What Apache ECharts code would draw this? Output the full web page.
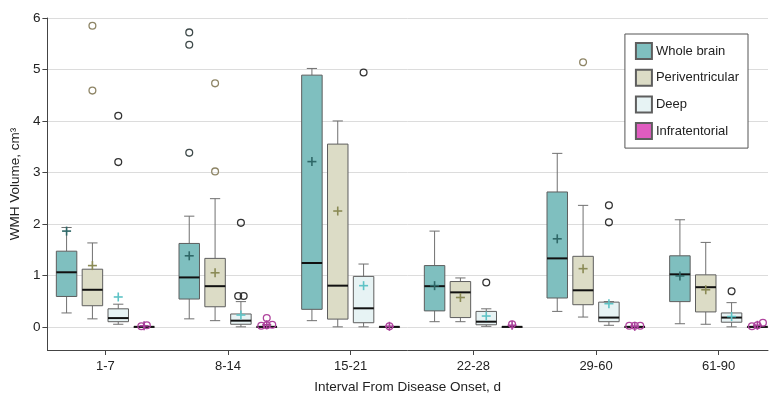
<!DOCTYPE html>
<html>
<head>
<meta charset="utf-8">
<script src="https://cdn.jsdelivr.net/npm/echarts@6/dist/echarts.min.js"></script>
<style>html,body{margin:0;padding:0;background:#fff}#c{width:780px;height:405px}</style>
</head>
<body>
<div id="c"></div>
<script>
// ---- data ----
const categories = ['1-7', '8-14', '15-21', '22-28', '29-60', '61-90'];
const groupNames = ['Whole brain', 'Periventricular', 'Deep', 'Infratentorial'];

// [low whisker, Q1, median, Q3, high whisker]
const wholeBrainStats = [
  [0.27, 0.59, 1.06, 1.47, 1.93],
  [0.155, 0.54, 0.96, 1.62, 2.15],
  [0.12, 0.34, 1.24, 4.89, 5.02],
  [0.10, 0.31, 0.79, 1.19, 1.86],
  [0.30, 0.56, 1.33, 2.62, 3.37],
  [0.06, 0.49, 1.02, 1.38, 2.08]
];
const periStats = [
  [0.155, 0.41, 0.72, 1.12, 1.63],
  [0.12, 0.39, 0.79, 1.33, 2.49],
  [0.0, 0.15, 0.80, 3.55, 4.0],
  [0.10, 0.18, 0.67, 0.88, 0.95],
  [0.19, 0.43, 0.71, 1.37, 2.36],
  [0.05, 0.29, 0.77, 1.01, 1.64]
];
const deepStats = [
  [0.05, 0.10, 0.17, 0.35, 0.44],
  [0.0, 0.05, 0.12, 0.25, 0.49],
  [0.0, 0.08, 0.36, 0.98, 1.22],
  [0.01, 0.04, 0.10, 0.30, 0.35],
  [0.03, 0.10, 0.18, 0.48, 0.49],
  [0.0, 0.09, 0.18, 0.27, 0.47]
];
const infraStats = [
  [0, 0, 0, 0, 0],
  [0, 0, 0, 0, 0],
  [0, 0, 0, 0, 0],
  [0, 0, 0, 0, 0],
  [0, 0, 0, 0, 0],
  [0, 0, 0, 0, 0]
];

const wholeBrainMeans = [1.86, 1.38, 3.21, 0.80, 1.71, 0.99];
const periMeans = [1.19, 1.05, 2.25, 0.57, 1.13, 0.72];
const deepMeans = [0.58, 0.23, 0.80, 0.21, 0.45, 0.20];
const infraMeans = [0.02, 0.04, 0.01, 0.03, 0.01, 0.03];

// outliers per category
const wholeBrainOutliers = [[], [5.72, 5.48, 3.38], [], [], [], []];
const periOutliers = [[5.85, 4.59], [4.73, 3.02], [], [], [5.14], []];
const deepOutliers = [[4.10, 3.20], [2.02, 0.60, 0.60], [4.94], [0.86], [2.36, 2.03], [0.69]];
const infraOutliers = [[0.01, 0.03], [0.17, 0.02, 0.03, 0.04], [0.01], [0.05], [0.02, 0.02, 0.02], [0.01, 0.03, 0.08]];

const yTicksMin = -0.45, yTicksMax = 6;

// ---- styles ----
const FONT = "'Liberation Sans', Arial, sans-serif";
const fills = ['#7fbfbf', '#dcdcc6', '#e7f3f4', '#e05cc0'];
const meanColors = ['#2f6868', '#8a8a55', '#5ec3c6', '#a8409a'];
const outlierColors = ['#3f4a4a', '#8e8566', '#333333', '#b0449e'];
const boxBorder = '#5e5e5e';
const whiskerColor = '#707070';

const statsList = [wholeBrainStats, periStats, deepStats, infraStats];
const meansList = [wholeBrainMeans, periMeans, deepMeans, infraMeans];
const outliersList = [wholeBrainOutliers, periOutliers, deepOutliers, infraOutliers];

// same slot layout as ECharts boxplot with 4 series per band
function slot(api, gi) {
  const band = api.size([1, 0])[0];
  const avail = band * 0.8 - 2;
  const gap = avail / 4 * 0.3;
  const bw = (avail - gap * 3) / 4;
  return { off: bw / 2 - avail / 2 + gi * (bw + gap), boxW: band * 0.167 };
}

function boxRender(gi) {
  return function (params, api) {
    const c = api.value(0);
    const s = slot(api, gi);
    const x = api.coord([c, 0])[0] + s.off;
    const Y = v => api.coord([c, v])[1];
    const low = Y(api.value(1)), q1 = Y(api.value(2)), med = Y(api.value(3)), q3 = Y(api.value(4)), high = Y(api.value(5));
    const hw = s.boxW / 2, cap = s.boxW / 4;
    const ls = { stroke: whiskerColor, lineWidth: 1 };
    const ch = [];
    if (low - q1 > 0.5) {
      ch.push({ type: 'line', shape: { x1: x, y1: q1, x2: x, y2: low }, style: ls });
      ch.push({ type: 'line', shape: { x1: x - cap, y1: low, x2: x + cap, y2: low }, style: ls });
    }
    if (q3 - high > 0.5) {
      ch.push({ type: 'line', shape: { x1: x, y1: q3, x2: x, y2: high }, style: ls });
      ch.push({ type: 'line', shape: { x1: x - cap, y1: high, x2: x + cap, y2: high }, style: ls });
    }
    ch.push({ type: 'rect', shape: { x: x - hw, y: q3, width: s.boxW, height: Math.max(q1 - q3, 0.5) },
      style: { fill: fills[gi], stroke: boxBorder, lineWidth: 1 } });
    ch.push({ type: 'line', shape: { x1: x - hw, y1: med, x2: x + hw, y2: med }, style: { stroke: '#111', lineWidth: 2 } });
    return { type: 'group', children: ch };
  };
}

function meanRender(gi) {
  return function (params, api) {
    const c = api.value(0);
    const s = slot(api, gi);
    const p = api.coord([c, api.value(1)]);
    const x = p[0] + s.off, y = p[1], r = 4.5;
    const st = { stroke: meanColors[gi], lineWidth: 1.6 };
    return { type: 'group', children: [
      { type: 'line', shape: { x1: x - r, y1: y, x2: x + r, y2: y }, style: st },
      { type: 'line', shape: { x1: x, y1: y - r, x2: x, y2: y + r }, style: st }
    ] };
  };
}

function outlierRender(gi) {
  return function (params, api) {
    const c = api.value(0);
    const s = slot(api, gi);
    const p = api.coord([c, api.value(1)]);
    const x = p[0] + s.off + api.value(2) * 5.5;
    return { type: 'circle', shape: { cx: x, cy: p[1], r: 3.4 },
      style: { fill: 'rgba(255,255,255,0)', stroke: outlierColors[gi], lineWidth: 1.3 } };
  };
}

// spread overlapping outliers horizontally (cluster rank)
function outlierData(list) {
  const out = [];
  list.forEach((vals, ci) => {
    const sorted = vals.slice().sort((a, b) => a - b);
    let cluster = [];
    const flush = () => {
      const n = cluster.length;
      cluster.forEach((v, k) => out.push([ci, v, k - (n - 1) / 2]));
      cluster = [];
    };
    sorted.forEach(v => {
      if (cluster.length && v - cluster[cluster.length - 1] > 0.1) flush();
      cluster.push(v);
    });
    flush();
  });
  return out;
}

const series = [];
groupNames.forEach((name, gi) => {
  series.push({
    name: name, type: 'custom', xAxisIndex: 1, yAxisIndex: 1,
    itemStyle: { color: fills[gi], borderColor: boxBorder, borderWidth: 1 },
    renderItem: boxRender(gi),
    encode: { x: 0, y: [1, 2, 3, 4, 5] },
    data: statsList[gi].map((s, ci) => [ci].concat(s)),
    z: 2
  });
});
groupNames.forEach((name, gi) => {
  series.push({
    name: name + ' outliers', type: 'custom', xAxisIndex: 1, yAxisIndex: 1,
    renderItem: outlierRender(gi), encode: { x: 0, y: 1 },
    data: outlierData(outliersList[gi]), z: 3
  });
});
groupNames.forEach((name, gi) => {
  series.push({
    name: name + ' mean', type: 'custom', xAxisIndex: 1, yAxisIndex: 1,
    renderItem: meanRender(gi), encode: { x: 0, y: 1 },
    data: meansList[gi].map((m, ci) => [ci, m]), z: 4
  });
});

const chart = echarts.init(document.getElementById('c'), null, { renderer: 'canvas' });
chart.setOption({
  animation: false,
  textStyle: { fontFamily: FONT },
  grid: [
    { left: 42, right: 12, top: 18, bottom: 55 },
    { left: 44, right: 0, top: 18, bottom: 55 }
  ],
  legend: {
    data: groupNames, orient: 'vertical', right: 32, top: 34,
    itemWidth: 16, itemHeight: 16, itemGap: 8.7,
    icon: 'rect', padding: [8, 9, 8, 10],
    borderColor: '#555', borderWidth: 1, borderRadius: 0, backgroundColor: '#fff',
    textStyle: { fontSize: 13, color: '#222', fontFamily: FONT, padding: [0, 0, 0, -1] },
    selectedMode: false
  },
  xAxis: [
    {
      gridIndex: 0, type: 'category', data: categories, boundaryGap: true,
      axisLine: { show: true, onZero: false, lineStyle: { color: '#444', width: 1 } },
      axisTick: { show: false }, axisLabel: { show: false }, splitLine: { show: false },
      name: 'Interval From Disease Onset, d', nameLocation: 'middle', nameGap: 30,
      nameTextStyle: { fontSize: 13.5, color: '#222', fontFamily: FONT }
    },
    {
      gridIndex: 1, type: 'category', data: categories, boundaryGap: true,
      axisLine: { show: false, onZero: false },
      axisTick: { show: true, alignWithLabel: true, length: 5, lineStyle: { color: '#444' } },
      axisLabel: { fontSize: 13, color: '#222', margin: 10, fontFamily: FONT },
      splitLine: { show: false }
    }
  ],
  yAxis: [
    {
      gridIndex: 0, type: 'value', min: yTicksMin, max: yTicksMax, splitNumber: 6,
      axisLine: { show: true, onZero: false, lineStyle: { color: '#444', width: 1 } },
      axisTick: { show: true, length: 5, lineStyle: { color: '#444' } },
      axisLabel: { fontSize: 13.5, color: '#222', margin: 7, showMinLabel: false, fontFamily: FONT,
        formatter: v => (Math.abs(v - Math.round(v)) < 1e-6 ? String(Math.round(v)) : '') },
      splitLine: { show: true, lineStyle: { color: '#dcdcdc', width: 1 } },
      name: 'WMH Volume, cm\u00b3', nameLocation: 'middle', nameRotate: 90, nameGap: 22,
      nameTextStyle: { fontSize: 13.5, color: '#222', fontFamily: FONT }
    },
    {
      gridIndex: 1, type: 'value', min: yTicksMin, max: yTicksMax, show: false,
      splitLine: { show: false }
    }
  ],
  series: series
});
</script>
</body>
</html>
